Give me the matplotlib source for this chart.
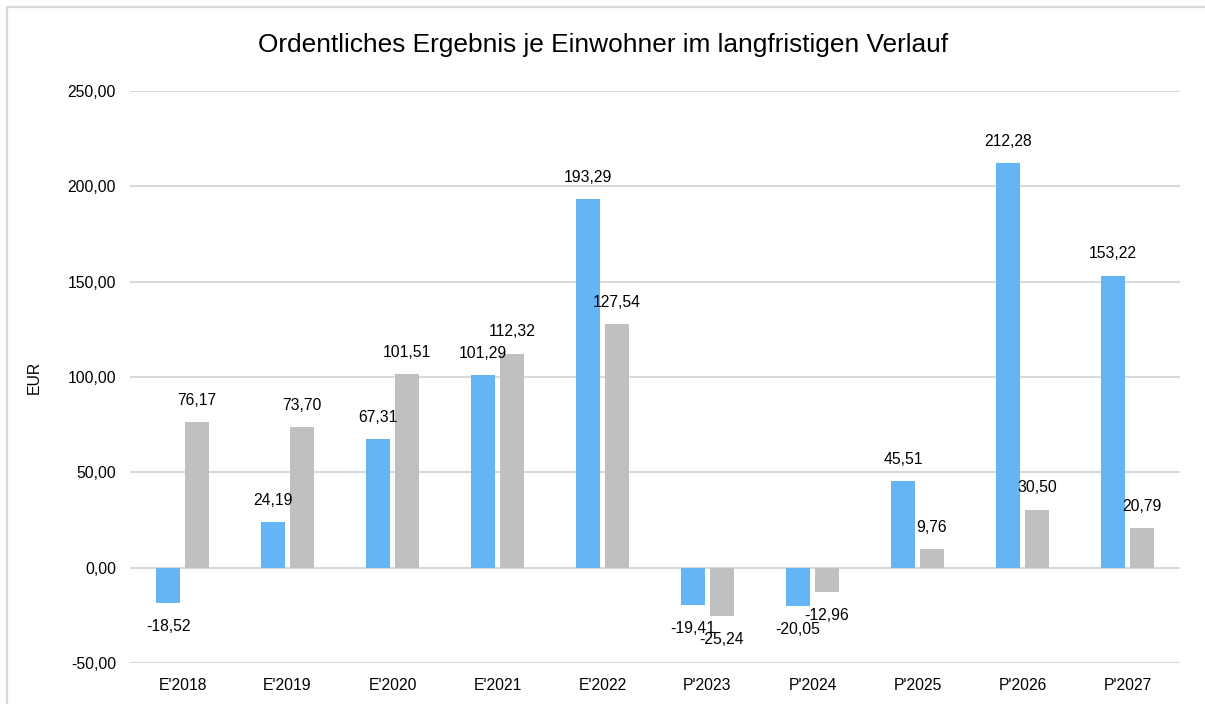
import matplotlib
matplotlib.use("Agg")
import matplotlib.pyplot as plt
from matplotlib.patches import Rectangle
import numpy as np

categories = ["E'2018", "E'2019", "E'2020", "E'2021", "E'2022",
              "P'2023", "P'2024", "P'2025", "P'2026", "P'2027"]
series_a = [-18.52, 24.19, 67.31, 101.29, 193.29, -19.41, -20.05, 45.51, 212.28, 153.22]
series_b = [76.17, 73.70, 101.51, 112.32, 127.54, -25.24, -12.96, 9.76, 30.50, 20.79]
yticks = [-50, 0, 50, 100, 150, 200, 250]

plt.rcParams['font.family'] = ['Liberation Sans', 'DejaVu Sans']

W, H = 1205, 704
fig = plt.figure(figsize=(W / 100, H / 100), dpi=100)
ax = fig.add_axes([130 / W, 1 - 663 / H, 1050 / W, 572 / H])

x = np.arange(len(categories))
off = 0.138
bw = 0.225
blue = '#64B5F6'
gray = '#C0C0C0'
bars_a = ax.bar(x - off, series_a, bw, color=blue, zorder=3)
bars_b = ax.bar(x + off, series_b, bw, color=gray, zorder=3)

def fmt(v):
    return f"{v:.2f}".replace('.', ',')

for bars, vals in ((bars_a, series_a), (bars_b, series_b)):
    for b, v in zip(bars, vals):
        cx = b.get_x() + b.get_width() / 2
        dy = 15.5 if v >= 0 else -17.0
        ax.annotate(fmt(v), (cx, v), xytext=(0, dy), textcoords='offset points',
                    ha='center', va='center', fontsize=11.3, color='#000000', zorder=5)

ax.set_xlim(-0.5, len(categories) - 0.5)
ax.set_ylim(-50, 250)
ax.set_yticks(yticks)
ax.set_yticklabels([fmt(v) for v in yticks], fontsize=11.3)
ax.set_xticks(x)
ax.set_xticklabels(categories, fontsize=11.3)
ax.tick_params(axis='both', length=0)
ax.tick_params(axis='y', pad=10)
ax.tick_params(axis='x', pad=10.5)
ax.grid(axis='y', color='#D9D9D9', linewidth=1.5, zorder=0)
for s in ax.spines.values():
    s.set_visible(False)

ax.set_ylabel('EUR', fontsize=11.3)
ax.yaxis.set_label_coords((42 - 130) / 1050, 0.5)

fig.text(603 / W, 1 - 45 / H, 'Ordentliches Ergebnis je Einwohner im langfristigen Verlauf',
         ha='center', va='center', fontsize=18.9)

fig.patches.append(Rectangle((7 / W, -0.1), 1.2, 1 - 7 / H + 0.1, transform=fig.transFigure,
                             fill=False, edgecolor='#D9D9D9', linewidth=1.6, zorder=0))

fig.savefig('out.png', dpi=100)
